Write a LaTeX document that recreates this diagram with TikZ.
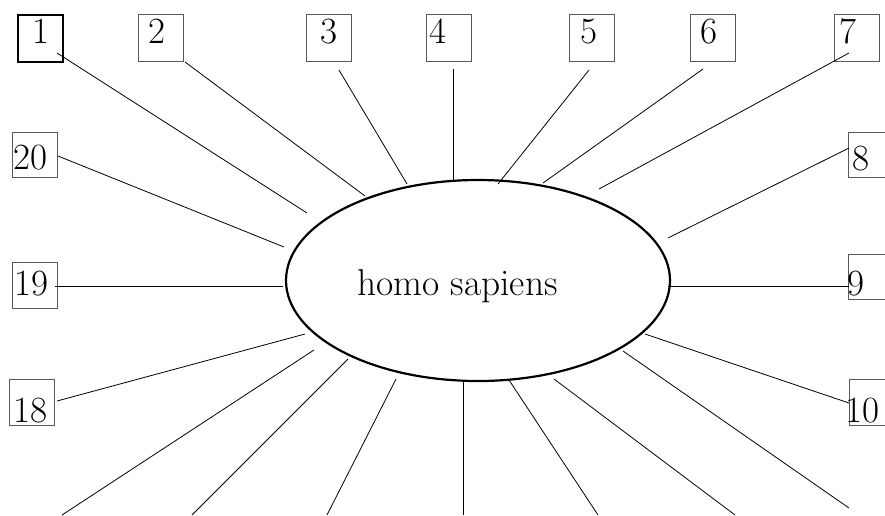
\documentclass[tikz,border=0pt]{standalone}
\usetikzlibrary{shapes.geometric}
\definecolor{boxgray}{gray}{0.35}
\begin{document}
\begin{tikzpicture}[x=1pt,y=-1pt,
  numbox/.style={draw=boxgray, line width=0.8pt, rectangle, anchor=north west,
    inner sep=0pt, minimum width=45pt, text width=45pt, align=left,
    font=\fontsize{37pt}{42pt}\selectfont},
  firstbox/.style={numbox, draw=black, line width=1.7pt},
  hub/.style={draw=black, line width=2.2pt, ellipse, inner sep=0pt,
    minimum width=384pt, minimum height=201pt,
    font=\fontsize{37.4pt}{42pt}\selectfont, text height=37pt, text depth=8pt},
  spoke/.style={draw=black, line width=0.8pt}]
\useasboundingbox (0,0) rectangle (885,515);
\clip (0,0) rectangle (885,515);
% hub
\node[hub] (hs) at (478,280.5) {homo sapiens\hspace*{41pt}};
% boxes (top row)
\node[firstbox, text height=29pt, text depth=18pt] (b1) at (17,14) {\hspace*{15pt}1};
\node[numbox, text height=29pt, text depth=18pt] (b2) at (138,14) {\hspace*{10pt}2};
\node[numbox, text height=29pt, text depth=18pt] (b3) at (306,14) {\hspace*{14pt}3};
\node[numbox, text height=29pt, text depth=18pt] (b4) at (426,14) {\hspace*{3pt}4};
\node[numbox, text height=29pt, text depth=18pt] (b5) at (569,14) {\hspace*{11pt}5};
\node[numbox, text height=29pt, text depth=18pt] (b6) at (690,14) {\hspace*{10pt}6};
\node[numbox, text height=29pt, text depth=18pt] (b7) at (834,14) {\hspace*{5pt}7};
% right side
\node[numbox, text height=38pt, text depth=7pt] (b8) at (848,132) {\hspace*{4pt}8};
\node[numbox, text height=41pt, text depth=4pt] (b9) at (848,254) {\hspace*{-1pt}9};
\node[numbox, text height=43pt, text depth=3pt] (b10) at (849,379) {\hspace*{-4pt}10};
% left side
\node[numbox, text height=37pt, text depth=8pt] (b20) at (12,132) {\hspace*{1.5pt}20};
\node[numbox, text height=33pt, text depth=13pt] (b19) at (12,262) {\hspace*{2pt}19};
\node[numbox, text height=43pt, text depth=3pt] (b18) at (9,379) {\hspace*{4pt}18};
% spoke end points
\coordinate (s1) at (57,53);   \coordinate (e1) at (307,213);
\coordinate (s2) at (185,62);  \coordinate (e2) at (365,196);
\coordinate (s3) at (339,70);  \coordinate (e3) at (407,184);
\coordinate (s4) at (453,69);  \coordinate (e4) at (453,182);
\coordinate (s5) at (589,70);  \coordinate (e5) at (498,184);
\coordinate (s6) at (703,69);  \coordinate (e6) at (543,183);
\coordinate (s7) at (849,53);  \coordinate (e7) at (599,189);
\coordinate (s8) at (849,148); \coordinate (e8) at (668,238);
\coordinate (s9) at (849,286.5); \coordinate (e9) at (668,286.5);
\coordinate (s10) at (849,403); \coordinate (e10) at (645,334);
\coordinate (s11) at (849,508); \coordinate (e11) at (623,351);
\coordinate (s12) at (735,515); \coordinate (e12) at (554,379);
\coordinate (s13) at (598,515); \coordinate (e13) at (509,380);
\coordinate (s14) at (463,515); \coordinate (e14) at (463,380);
\coordinate (s15) at (327,515); \coordinate (e15) at (396,379);
\coordinate (s16) at (192,515); \coordinate (e16) at (348,359);
\coordinate (s17) at (62,515);  \coordinate (e17) at (314,350);
\coordinate (s18) at (57,401);  \coordinate (e18) at (305,334);
\coordinate (s19) at (55,286.5); \coordinate (e19) at (283,286.5);
\coordinate (s20) at (58,156);  \coordinate (e20) at (284,247);
\foreach \i in {1,...,20} { \draw[spoke] (s\i) -- (e\i); }
\end{tikzpicture}
\end{document}
